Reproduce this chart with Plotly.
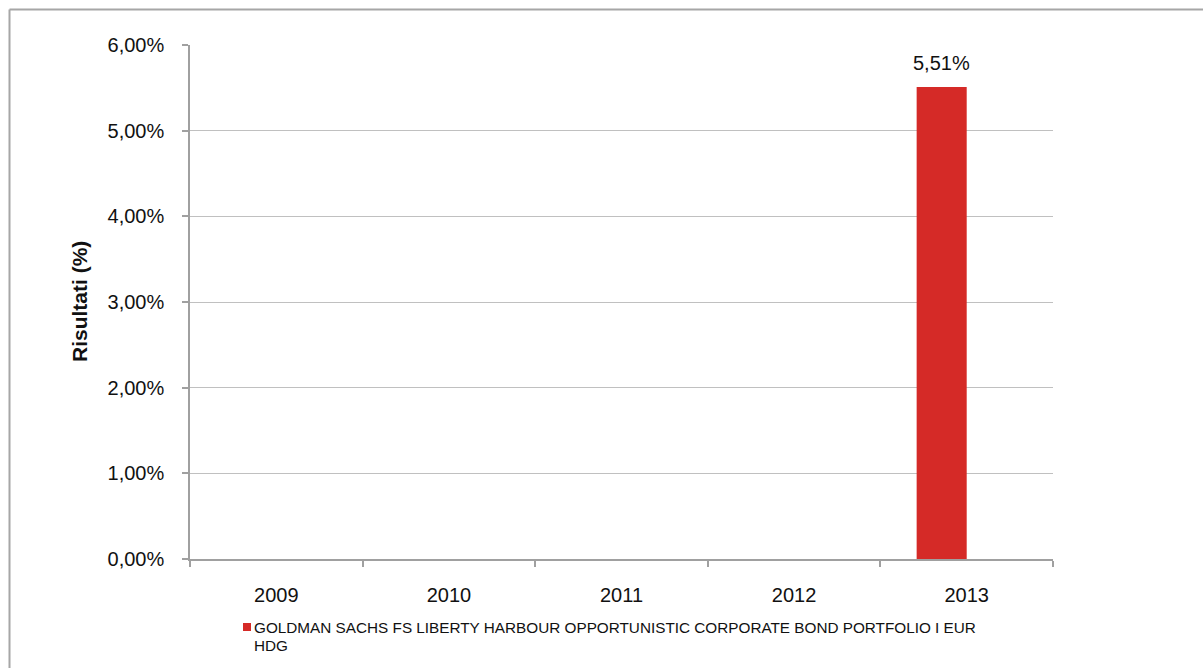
import plotly.graph_objects as go

years = ["2009", "2010", "2011", "2012", "2013"]
values = [None, None, None, None, 0.0551]
series_name = "GOLDMAN SACHS FS LIBERTY HARBOUR OPPORTUNISTIC CORPORATE BOND PORTFOLIO I EUR<br>HDG"
y_ticks = [0, 0.01, 0.02, 0.03, 0.04, 0.05, 0.06]

W, H = 1203, 668
L, R, T, B = 190, 150, 45, 109
pw, ph = W - L - R, H - T - B

def px_x(x):
    return (x - L) / pw

def px_y(y):
    return (H - B - y) / ph

FONT = "Liberation Sans, Arial, sans-serif"
RED = "#D52A27"
BAR_W = 0.29  # in category units; bar sits left of category centre (Excel group slot)

fig = go.Figure()
fig.add_trace(go.Bar(
    x=years, y=values, name=series_name.replace("<br>", " "),
    width=BAR_W, offset=-BAR_W,
    marker=dict(color=RED, line=dict(width=0)),
    showlegend=False,
))

for i, v in enumerate(values):
    if v is not None:
        fig.add_annotation(
            x=i - BAR_W / 2, y=v, xref="x", yref="y",
            text=f"{v*100:.2f}%".replace(".", ","),
            showarrow=False, xanchor="center", yanchor="bottom", yshift=11,
            font=dict(family=FONT, size=20, color="#111111"),
        )

# y axis title
fig.add_annotation(
    x=px_x(79), y=px_y(302), xref="paper", yref="paper",
    xanchor="center", yanchor="middle",
    text="<b>Risultati (%)</b>", textangle=-90, showarrow=False,
    font=dict(family=FONT, size=21, color="#111111"),
)

# legend (Excel-style: small square + wrapped label)
fig.add_shape(type="rect", xref="paper", yref="paper",
              x0=px_x(243), x1=px_x(251), y0=px_y(623), y1=px_y(631),
              fillcolor=RED, line=dict(width=0))
for k, line in enumerate(series_name.split("<br>")):
    fig.add_annotation(
        x=px_x(252), y=px_y(627 + 18 * k), xref="paper", yref="paper",
        xanchor="left", yanchor="middle", align="left",
        text=line, showarrow=False,
        font=dict(family=FONT, size=15.3, color="#111111"),
    )

# outer frame (left and top edges visible)
fig.add_shape(type="line", xref="paper", yref="paper",
              x0=px_x(9.5), y0=px_y(9.5), x1=px_x(1210), y1=px_y(9.5),
              line=dict(color="#A6A6A6", width=2))
fig.add_shape(type="line", xref="paper", yref="paper",
              x0=px_x(9.5), y0=px_y(9.5), x1=px_x(9.5), y1=px_y(680),
              line=dict(color="#A6A6A6", width=2))

fig.update_layout(
    width=W, height=H,
    margin=dict(l=L, r=R, t=T, b=B, pad=0),
    paper_bgcolor="white", plot_bgcolor="white",
    separators=",.",
    showlegend=False,
    font=dict(family=FONT, size=20, color="#111111"),
    xaxis=dict(
        type="category", categoryorder="array", categoryarray=years,
        range=[-0.5, len(years) - 0.5], autorange=False,
        tickson="boundaries", ticks="outside", ticklen=6, tickangle=0,
        tickcolor="#A0A0A0", tickwidth=1.5,
        showline=True, linecolor="#A0A0A0", linewidth=1.5,
        showgrid=False, ticklabelstandoff=17,
        tickfont=dict(family=FONT, size=20, color="#111111"),
    ),
    yaxis=dict(
        range=[0, 0.06], autorange=False, tickvals=y_ticks, tickformat=".2%",
        ticks="outside", ticklen=6, tickcolor="#A0A0A0", tickwidth=1.5,
        showline=True, linecolor="#A0A0A0", linewidth=1.5,
        showgrid=True, gridcolor="#C0C0C0", gridwidth=1,
        zeroline=False, ticklabelstandoff=14,
        tickfont=dict(family=FONT, size=20, color="#111111"),
    ),
)

fig.write_html("out.html", config={"displayModeBar": False},
               post_script="document.body.style.margin='0';")
